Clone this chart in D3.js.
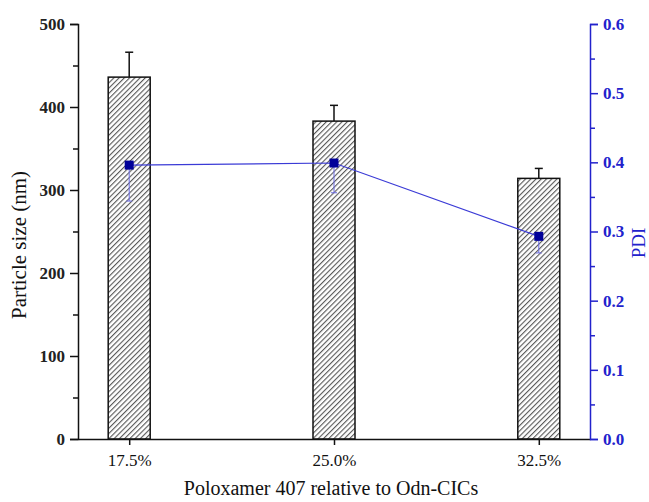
<!DOCTYPE html>
<html>
<head>
<meta charset="utf-8">
<script src="https://cdn.jsdelivr.net/npm/d3@7"></script>
<style>
  body { margin: 0; background: #fff; }
  text { font-family: "Liberation Serif", "DejaVu Serif", serif; }
</style>
</head>
<body>
<div id="vis-container"></div>
<script>
// data
const categories = ["17.5%", "25.0%", "32.5%"];
const sizeValues = [436, 383, 314];
const sizeErr = [30, 19, 12];
const pdiValues = [0.396, 0.399, 0.293];
const pdiErrLow = [0.052, 0.043, 0.024];
const sizeTicks = [0, 100, 200, 300, 400, 500];
const sizeMinor = [50, 150, 250, 350, 450];
const pdiTicks = [0, 0.1, 0.2, 0.3, 0.4, 0.5, 0.6];
const pdiMinor = [0.05, 0.15, 0.25, 0.35, 0.45, 0.55];

const width = 649, height = 502;
const margin = {top: 24, right: 59, bottom: 63, left: 78};
const dWidth = width - margin.left - margin.right,
      dHeight = height - margin.top - margin.bottom;
const blue = "#2222cc";

const svg = d3.select("#vis-container")
  .append("svg")
  .attr("width", width)
  .attr("height", height);

const pat = svg.append("defs").append("pattern")
  .attr("id", "hatch")
  .attr("patternUnits", "userSpaceOnUse")
  .attr("width", 3.7).attr("height", 10)
  .attr("patternTransform", "rotate(45)");
pat.append("rect").attr("width", 3.7).attr("height", 10).attr("fill", "#fff");
pat.append("line")
  .attr("x1", 0.6).attr("y1", 0).attr("x2", 0.6).attr("y2", 10)
  .attr("stroke", "#444").attr("stroke-width", 1);

const g = svg.append("g").attr("transform", `translate(${margin.left},${margin.top})`);

const x = d3.scalePoint().domain(categories).range([0, dWidth]).padding(0.25);
const y = d3.scaleLinear().domain([0, 500]).range([dHeight, 0]);
const y2 = d3.scaleLinear().domain([0, 0.6]).range([dHeight, 0]);
const barW = 42;

// bars
g.selectAll(".bar")
  .data(sizeValues)
  .enter().append("rect")
  .attr("x", (d, i) => x(categories[i]) - barW / 2)
  .attr("y", d => y(d))
  .attr("width", barW)
  .attr("height", d => dHeight - y(d))
  .attr("fill", "url(#hatch)")
  .attr("stroke", "#111")
  .attr("stroke-width", 1.5);

// bar error bars (upper only)
sizeValues.forEach((d, i) => {
  const cx = x(categories[i]);
  g.append("line")
    .attr("x1", cx).attr("x2", cx)
    .attr("y1", y(d)).attr("y2", y(d + sizeErr[i]))
    .attr("stroke", "#111").attr("stroke-width", 1.5);
  g.append("line")
    .attr("x1", cx - 4).attr("x2", cx + 4)
    .attr("y1", y(d + sizeErr[i])).attr("y2", y(d + sizeErr[i]))
    .attr("stroke", "#111").attr("stroke-width", 1.5);
});

// left axis
const yAxis = g.append("g")
  .call(d3.axisLeft(y).tickValues(sizeTicks).tickSize(8).tickPadding(5));
g.append("g")
  .call(d3.axisLeft(y).tickValues(sizeMinor).tickSize(5).tickFormat(""))
  .attr("color", "#111")
  .call(a => a.select(".domain").remove())
  .selectAll("line").attr("stroke-width", 1.5);

// bottom axis
const xAxis = g.append("g")
  .attr("transform", `translate(0,${dHeight})`)
  .call(d3.axisBottom(x).tickSize(6).tickPadding(9).tickSizeOuter(0));

// right axis
const rAxis = g.append("g")
  .attr("transform", `translate(${dWidth},0)`)
  .call(d3.axisRight(y2).tickValues(pdiTicks).tickSize(8).tickPadding(5).tickFormat(d3.format(".1f")));
g.append("g")
  .attr("transform", `translate(${dWidth},0)`)
  .call(d3.axisRight(y2).tickValues(pdiMinor).tickSize(5).tickFormat(""))
  .attr("color", blue)
  .call(a => a.select(".domain").remove())
  .selectAll("line").attr("stroke-width", 1.5);

[yAxis, xAxis].forEach(a => {
  a.attr("color", "#111");
  a.selectAll(".domain, .tick line").attr("stroke-width", 1.5);
  a.selectAll("text").attr("font-size", 17).attr("fill", "#111")
    .style("font-family", "'Liberation Serif', serif");
});
yAxis.selectAll("text").attr("font-weight", "bold").attr("fill", "#222");
rAxis.attr("color", blue);
rAxis.selectAll(".domain, .tick line").attr("stroke-width", 1.5);
rAxis.selectAll("text").attr("font-size", 17).attr("fill", blue).attr("font-weight", "bold")
  .style("font-family", "'Liberation Serif', serif");

// PDI line
const line = d3.line()
  .x((d, i) => x(categories[i]))
  .y(d => y2(d));
g.append("path")
  .datum(pdiValues)
  .attr("fill", "none")
  .attr("stroke", "#3b3bd6")
  .attr("stroke-width", 1.2)
  .attr("d", line);

// PDI error bars (lower only)
pdiValues.forEach((d, i) => {
  const cx = x(categories[i]);
  g.append("line")
    .attr("x1", cx).attr("x2", cx)
    .attr("y1", y2(d)).attr("y2", y2(d - pdiErrLow[i]))
    .attr("stroke", "#6a6ae0").attr("stroke-width", 1);
  g.append("line")
    .attr("x1", cx - 3).attr("x2", cx + 3)
    .attr("y1", y2(d - pdiErrLow[i])).attr("y2", y2(d - pdiErrLow[i]))
    .attr("stroke", "#6a6ae0").attr("stroke-width", 1);
});

g.selectAll(".pt")
  .data(pdiValues)
  .enter().append("rect")
  .attr("x", (d, i) => x(categories[i]) - 4.5)
  .attr("y", d => y2(d) - 4.5)
  .attr("width", 9).attr("height", 9)
  .attr("fill", "#000099");

// axis titles
svg.append("text")
  .attr("x", 331)
  .attr("y", 495)
  .attr("text-anchor", "middle")
  .attr("font-size", 20)
  .attr("fill", "#111")
  .text("Poloxamer 407 relative to Odn-CICs");

svg.append("text")
  .attr("transform", "translate(26,245) rotate(-90)")
  .attr("text-anchor", "middle")
  .attr("font-size", 21)
  .attr("fill", "#111")
  .text("Particle size (nm)");

svg.append("text")
  .attr("transform", "translate(645,243) rotate(-90)")
  .attr("text-anchor", "middle")
  .attr("font-size", 19)
  .attr("fill", blue)
  .text("PDI");
</script>
</body>
</html>
